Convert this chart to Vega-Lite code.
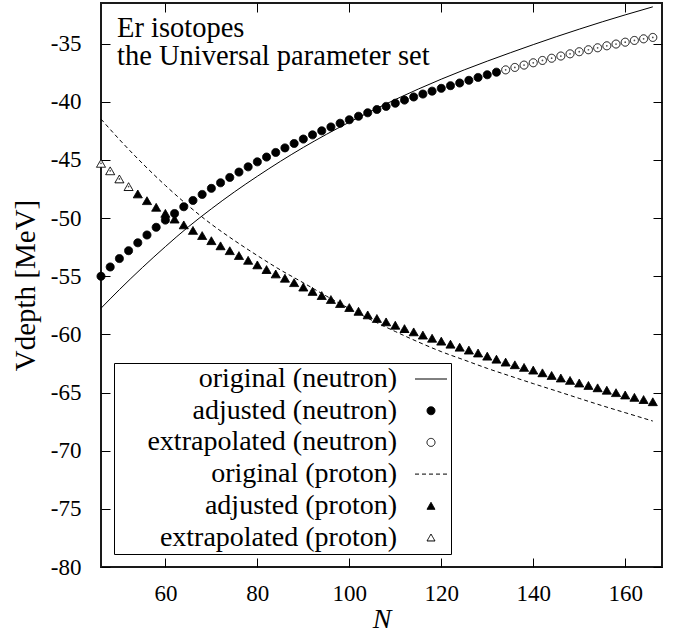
{
  "$schema": "https://vega.github.io/schema/vega-lite/v6.json",
  "width": 561,
  "height": 564,
  "autosize": {"type": "none"},
  "padding": {"left": 101, "top": 3, "right": 21, "bottom": 66},
  "background": "white",
  "config": {
    "font": "Liberation Serif",
    "view": {"stroke": "#1a1a1a", "strokeWidth": 2},
    "axis": {
      "domain": false, "grid": false,
      "tickColor": "black", "tickSize": -9, "tickWidth": 1,
      "labelFont": "Liberation Serif", "labelFontSize": 23, "labelColor": "black",
      "labelExpr": "replace(datum.label, '\u2212', '-')",
      "titleFont": "Liberation Serif", "titleFontSize": 29, "titleFontWeight": "normal", "titleColor": "black"
    }
  },
  "title": {
    "text": ["Er isotopes", "\u00a0the Universal parameter set"],
    "anchor": "start", "frame": "group", "orient": "top", "offset": -91,
    "dx": 16, "baseline": "alphabetic",
    "font": "Liberation Serif", "fontSize": 28.5, "fontWeight": "normal", "color": "black", "lineHeight": 28.5
  },
  "datasets": {
    "vdepth": [
      {"N": 46, "V": -57.75, "series": "original (neutron)"},
      {"N": 50, "V": -56.15, "series": "original (neutron)"},
      {"N": 55, "V": -54.25, "series": "original (neutron)"},
      {"N": 60, "V": -52.45, "series": "original (neutron)"},
      {"N": 65, "V": -50.75, "series": "original (neutron)"},
      {"N": 70, "V": -49.2, "series": "original (neutron)"},
      {"N": 75, "V": -47.75, "series": "original (neutron)"},
      {"N": 80, "V": -46.4, "series": "original (neutron)"},
      {"N": 85, "V": -45.12, "series": "original (neutron)"},
      {"N": 90, "V": -43.92, "series": "original (neutron)"},
      {"N": 95, "V": -42.8, "series": "original (neutron)"},
      {"N": 100, "V": -41.75, "series": "original (neutron)"},
      {"N": 105, "V": -40.75, "series": "original (neutron)"},
      {"N": 110, "V": -39.8, "series": "original (neutron)"},
      {"N": 115, "V": -38.9, "series": "original (neutron)"},
      {"N": 120, "V": -38.05, "series": "original (neutron)"},
      {"N": 125, "V": -37.25, "series": "original (neutron)"},
      {"N": 130, "V": -36.5, "series": "original (neutron)"},
      {"N": 135, "V": -35.78, "series": "original (neutron)"},
      {"N": 140, "V": -35.08, "series": "original (neutron)"},
      {"N": 145, "V": -34.4, "series": "original (neutron)"},
      {"N": 150, "V": -33.75, "series": "original (neutron)"},
      {"N": 155, "V": -33.12, "series": "original (neutron)"},
      {"N": 160, "V": -32.52, "series": "original (neutron)"},
      {"N": 166, "V": -31.83, "series": "original (neutron)"},

      {"N": 46, "V": -41.48, "series": "original (proton)"},
      {"N": 50, "V": -43.24, "series": "original (proton)"},
      {"N": 55, "V": -45.29, "series": "original (proton)"},
      {"N": 60, "V": -47.19, "series": "original (proton)"},
      {"N": 65, "V": -48.94, "series": "original (proton)"},
      {"N": 70, "V": -50.52, "series": "original (proton)"},
      {"N": 75, "V": -51.92, "series": "original (proton)"},
      {"N": 80, "V": -53.22, "series": "original (proton)"},
      {"N": 85, "V": -54.45, "series": "original (proton)"},
      {"N": 90, "V": -55.56, "series": "original (proton)"},
      {"N": 95, "V": -56.7, "series": "original (proton)"},
      {"N": 100, "V": -57.78, "series": "original (proton)"},
      {"N": 105, "V": -58.8, "series": "original (proton)"},
      {"N": 110, "V": -59.75, "series": "original (proton)"},
      {"N": 115, "V": -60.65, "series": "original (proton)"},
      {"N": 120, "V": -61.48, "series": "original (proton)"},
      {"N": 125, "V": -62.2, "series": "original (proton)"},
      {"N": 130, "V": -62.92, "series": "original (proton)"},
      {"N": 135, "V": -63.58, "series": "original (proton)"},
      {"N": 140, "V": -64.23, "series": "original (proton)"},
      {"N": 145, "V": -64.86, "series": "original (proton)"},
      {"N": 150, "V": -65.5, "series": "original (proton)"},
      {"N": 155, "V": -66.13, "series": "original (proton)"},
      {"N": 160, "V": -66.73, "series": "original (proton)"},
      {"N": 166, "V": -67.45, "series": "original (proton)"},

      {"N": 46, "V": -55.0, "series": "adjusted (neutron)"},
      {"N": 48, "V": -54.2, "series": "adjusted (neutron)"},
      {"N": 50, "V": -53.48, "series": "adjusted (neutron)"},
      {"N": 52, "V": -52.8, "series": "adjusted (neutron)"},
      {"N": 54, "V": -52.12, "series": "adjusted (neutron)"},
      {"N": 56, "V": -51.45, "series": "adjusted (neutron)"},
      {"N": 58, "V": -50.79, "series": "adjusted (neutron)"},
      {"N": 60, "V": -50.17, "series": "adjusted (neutron)"},
      {"N": 62, "V": -49.6, "series": "adjusted (neutron)"},
      {"N": 64, "V": -49.02, "series": "adjusted (neutron)"},
      {"N": 66, "V": -48.48, "series": "adjusted (neutron)"},
      {"N": 68, "V": -47.96, "series": "adjusted (neutron)"},
      {"N": 70, "V": -47.44, "series": "adjusted (neutron)"},
      {"N": 72, "V": -46.96, "series": "adjusted (neutron)"},
      {"N": 74, "V": -46.5, "series": "adjusted (neutron)"},
      {"N": 76, "V": -46.04, "series": "adjusted (neutron)"},
      {"N": 78, "V": -45.59, "series": "adjusted (neutron)"},
      {"N": 80, "V": -45.16, "series": "adjusted (neutron)"},
      {"N": 82, "V": -44.75, "series": "adjusted (neutron)"},
      {"N": 84, "V": -44.35, "series": "adjusted (neutron)"},
      {"N": 86, "V": -43.96, "series": "adjusted (neutron)"},
      {"N": 88, "V": -43.58, "series": "adjusted (neutron)"},
      {"N": 90, "V": -43.2, "series": "adjusted (neutron)"},
      {"N": 92, "V": -42.84, "series": "adjusted (neutron)"},
      {"N": 94, "V": -42.49, "series": "adjusted (neutron)"},
      {"N": 96, "V": -42.16, "series": "adjusted (neutron)"},
      {"N": 98, "V": -41.84, "series": "adjusted (neutron)"},
      {"N": 100, "V": -41.54, "series": "adjusted (neutron)"},
      {"N": 102, "V": -41.24, "series": "adjusted (neutron)"},
      {"N": 104, "V": -40.94, "series": "adjusted (neutron)"},
      {"N": 106, "V": -40.66, "series": "adjusted (neutron)"},
      {"N": 108, "V": -40.39, "series": "adjusted (neutron)"},
      {"N": 110, "V": -40.12, "series": "adjusted (neutron)"},
      {"N": 112, "V": -39.85, "series": "adjusted (neutron)"},
      {"N": 114, "V": -39.58, "series": "adjusted (neutron)"},
      {"N": 116, "V": -39.33, "series": "adjusted (neutron)"},
      {"N": 118, "V": -39.08, "series": "adjusted (neutron)"},
      {"N": 120, "V": -38.84, "series": "adjusted (neutron)"},
      {"N": 122, "V": -38.61, "series": "adjusted (neutron)"},
      {"N": 124, "V": -38.38, "series": "adjusted (neutron)"},
      {"N": 126, "V": -38.15, "series": "adjusted (neutron)"},
      {"N": 128, "V": -37.9, "series": "adjusted (neutron)"},
      {"N": 130, "V": -37.67, "series": "adjusted (neutron)"},
      {"N": 132, "V": -37.45, "series": "adjusted (neutron)"},

      {"N": 134, "V": -37.25, "series": "extrapolated (neutron)"},
      {"N": 136, "V": -37.04, "series": "extrapolated (neutron)"},
      {"N": 138, "V": -36.84, "series": "extrapolated (neutron)"},
      {"N": 140, "V": -36.64, "series": "extrapolated (neutron)"},
      {"N": 142, "V": -36.44, "series": "extrapolated (neutron)"},
      {"N": 144, "V": -36.25, "series": "extrapolated (neutron)"},
      {"N": 146, "V": -36.06, "series": "extrapolated (neutron)"},
      {"N": 148, "V": -35.87, "series": "extrapolated (neutron)"},
      {"N": 150, "V": -35.69, "series": "extrapolated (neutron)"},
      {"N": 152, "V": -35.52, "series": "extrapolated (neutron)"},
      {"N": 154, "V": -35.35, "series": "extrapolated (neutron)"},
      {"N": 156, "V": -35.18, "series": "extrapolated (neutron)"},
      {"N": 158, "V": -35.03, "series": "extrapolated (neutron)"},
      {"N": 160, "V": -34.87, "series": "extrapolated (neutron)"},
      {"N": 162, "V": -34.72, "series": "extrapolated (neutron)"},
      {"N": 164, "V": -34.58, "series": "extrapolated (neutron)"},
      {"N": 166, "V": -34.46, "series": "extrapolated (neutron)"},

      {"N": 46, "V": -45.29, "series": "extrapolated (proton)"},
      {"N": 48, "V": -45.93, "series": "extrapolated (proton)"},
      {"N": 50, "V": -46.63, "series": "extrapolated (proton)"},
      {"N": 52, "V": -47.29, "series": "extrapolated (proton)"},

      {"N": 54, "V": -47.92, "series": "adjusted (proton)"},
      {"N": 56, "V": -48.5, "series": "adjusted (proton)"},
      {"N": 58, "V": -49.07, "series": "adjusted (proton)"},
      {"N": 60, "V": -49.59, "series": "adjusted (proton)"},
      {"N": 62, "V": -50.08, "series": "adjusted (proton)"},
      {"N": 64, "V": -50.58, "series": "adjusted (proton)"},
      {"N": 66, "V": -51.06, "series": "adjusted (proton)"},
      {"N": 68, "V": -51.5, "series": "adjusted (proton)"},
      {"N": 70, "V": -51.94, "series": "adjusted (proton)"},
      {"N": 72, "V": -52.38, "series": "adjusted (proton)"},
      {"N": 74, "V": -52.8, "series": "adjusted (proton)"},
      {"N": 76, "V": -53.22, "series": "adjusted (proton)"},
      {"N": 78, "V": -53.63, "series": "adjusted (proton)"},
      {"N": 80, "V": -54.02, "series": "adjusted (proton)"},
      {"N": 82, "V": -54.42, "series": "adjusted (proton)"},
      {"N": 84, "V": -54.8, "series": "adjusted (proton)"},
      {"N": 86, "V": -55.17, "series": "adjusted (proton)"},
      {"N": 88, "V": -55.55, "series": "adjusted (proton)"},
      {"N": 90, "V": -55.93, "series": "adjusted (proton)"},
      {"N": 92, "V": -56.3, "series": "adjusted (proton)"},
      {"N": 94, "V": -56.66, "series": "adjusted (proton)"},
      {"N": 96, "V": -57.0, "series": "adjusted (proton)"},
      {"N": 98, "V": -57.35, "series": "adjusted (proton)"},
      {"N": 100, "V": -57.69, "series": "adjusted (proton)"},
      {"N": 102, "V": -58.01, "series": "adjusted (proton)"},
      {"N": 104, "V": -58.32, "series": "adjusted (proton)"},
      {"N": 106, "V": -58.63, "series": "adjusted (proton)"},
      {"N": 108, "V": -58.92, "series": "adjusted (proton)"},
      {"N": 110, "V": -59.21, "series": "adjusted (proton)"},
      {"N": 112, "V": -59.5, "series": "adjusted (proton)"},
      {"N": 114, "V": -59.78, "series": "adjusted (proton)"},
      {"N": 116, "V": -60.06, "series": "adjusted (proton)"},
      {"N": 118, "V": -60.33, "series": "adjusted (proton)"},
      {"N": 120, "V": -60.58, "series": "adjusted (proton)"},
      {"N": 122, "V": -60.84, "series": "adjusted (proton)"},
      {"N": 124, "V": -61.1, "series": "adjusted (proton)"},
      {"N": 126, "V": -61.35, "series": "adjusted (proton)"},
      {"N": 128, "V": -61.6, "series": "adjusted (proton)"},
      {"N": 130, "V": -61.87, "series": "adjusted (proton)"},
      {"N": 132, "V": -62.13, "series": "adjusted (proton)"},
      {"N": 134, "V": -62.38, "series": "adjusted (proton)"},
      {"N": 136, "V": -62.61, "series": "adjusted (proton)"},
      {"N": 138, "V": -62.84, "series": "adjusted (proton)"},
      {"N": 140, "V": -63.07, "series": "adjusted (proton)"},
      {"N": 142, "V": -63.3, "series": "adjusted (proton)"},
      {"N": 144, "V": -63.53, "series": "adjusted (proton)"},
      {"N": 146, "V": -63.75, "series": "adjusted (proton)"},
      {"N": 148, "V": -63.96, "series": "adjusted (proton)"},
      {"N": 150, "V": -64.18, "series": "adjusted (proton)"},
      {"N": 152, "V": -64.39, "series": "adjusted (proton)"},
      {"N": 154, "V": -64.59, "series": "adjusted (proton)"},
      {"N": 156, "V": -64.8, "series": "adjusted (proton)"},
      {"N": 158, "V": -65.01, "series": "adjusted (proton)"},
      {"N": 160, "V": -65.21, "series": "adjusted (proton)"},
      {"N": 162, "V": -65.41, "series": "adjusted (proton)"},
      {"N": 164, "V": -65.6, "series": "adjusted (proton)"},
      {"N": 166, "V": -65.79, "series": "adjusted (proton)"}
    ]
  },
  "data": {"name": "vdepth"},
  "resolve": {"axis": {"x": "independent", "y": "independent"}},
  "layer": [
    {
      "transform": [{"filter": "datum.series === 'original (neutron)'"}],
      "mark": {"type": "line", "color": "black", "strokeWidth": 1, "interpolate": "monotone"},
      "encoding": {
        "x": {"field": "N", "type": "quantitative",
              "scale": {"domain": [46, 168], "nice": false, "zero": false},
              "axis": {"orient": "bottom", "values": [60, 80, 100, 120, 140, 160], "labelPadding": 24,
                       "title": "N", "titleFontStyle": "italic", "titleFontSize": 28, "titlePadding": 0}},
        "y": {"field": "V", "type": "quantitative",
              "scale": {"domain": [-80, -31.5], "nice": false, "zero": false},
              "axis": {"orient": "left", "values": [-80, -75, -70, -65, -60, -55, -50, -45, -40, -35],
                       "labelPadding": 29, "title": "Vdepth [MeV]", "titlePadding": 10}}
      }
    },
    {
      "transform": [{"filter": "datum.series === 'original (proton)'"}],
      "mark": {"type": "line", "color": "black", "strokeWidth": 1, "strokeDash": [4, 3], "interpolate": "monotone"},
      "encoding": {
        "x": {"field": "N", "type": "quantitative",
              "scale": {"domain": [46, 168], "nice": false, "zero": false},
              "axis": {"orient": "top", "values": [60, 80, 100, 120, 140, 160], "labels": false, "title": null}},
        "y": {"field": "V", "type": "quantitative",
              "scale": {"domain": [-80, -31.5], "nice": false, "zero": false},
              "axis": {"orient": "right", "values": [-80, -75, -70, -65, -60, -55, -50, -45, -40, -35], "labels": false, "title": null}}
      }
    },
    {
      "transform": [{"filter": "indexof(datum.series, 'original') < 0"}],
      "mark": {"type": "point", "strokeWidth": 1, "opacity": 1, "fillOpacity": 1, "strokeOpacity": 1},
      "encoding": {
        "x": {"field": "N", "type": "quantitative", "scale": {"domain": [46, 168], "nice": false, "zero": false}, "axis": null},
        "y": {"field": "V", "type": "quantitative", "scale": {"domain": [-80, -31.5], "nice": false, "zero": false}, "axis": null},
        "size": {"condition": {"test": "indexof(datum.series, 'proton') >= 0", "value": 81}, "value": 64},
        "fill": {
          "field": "series", "type": "nominal",
          "scale": {
            "domain": ["original (neutron)", "adjusted (neutron)", "extrapolated (neutron)", "original (proton)", "adjusted (proton)", "extrapolated (proton)"],
            "range": ["white", "black", "white", "white", "black", "white"]
          }
        },
        "stroke": {
          "field": "series", "type": "nominal",
          "scale": {
            "domain": ["original (neutron)", "adjusted (neutron)", "extrapolated (neutron)", "original (proton)", "adjusted (proton)", "extrapolated (proton)"],
            "range": ["black", "black", "black", "black", "black", "black"]
          }
        },
        "strokeDash": {
          "field": "series", "type": "nominal",
          "scale": {
            "domain": ["original (neutron)", "adjusted (neutron)", "extrapolated (neutron)", "original (proton)", "adjusted (proton)", "extrapolated (proton)"],
            "range": [[1, 0], [1, 0], [1, 0], [4, 3], [1, 0], [1, 0]]
          }
        },
        "shape": {
          "field": "series", "type": "nominal",
          "scale": {
            "domain": ["original (neutron)", "adjusted (neutron)", "extrapolated (neutron)", "original (proton)", "adjusted (proton)", "extrapolated (proton)"],
            "range": ["M-4,0H4", "circle", "circle", "M-4,0H4", "triangle-up", "triangle-up"]
          },
          "legend": {
            "title": null,
            "orient": "bottom-left", "offset": 13, "padding": 2,
            "strokeColor": "black", "fillColor": "white",
            "labelFont": "Liberation Serif", "labelFontSize": 28, "labelColor": "black",
            "labelAlign": "right", "labelBaseline": "middle", "labelLimit": 0,
            "labelOffset": -48, "symbolOffset": 301, "rowPadding": 3.7, "symbolSize": 64,
            "symbolStrokeWidth": 1, "symbolOpacity": 1
          }
        }
      }
    },
    {
      "transform": [{"filter": "indexof(datum.series, 'extrapolated') >= 0"}],
      "mark": {"type": "point", "filled": true, "color": "black", "size": 3, "shape": "circle"},
      "encoding": {
        "x": {"field": "N", "type": "quantitative", "scale": {"domain": [46, 168], "nice": false, "zero": false}, "axis": null},
        "y": {"field": "V", "type": "quantitative", "scale": {"domain": [-80, -31.5], "nice": false, "zero": false}, "axis": null}
      }
    }
  ]
}
